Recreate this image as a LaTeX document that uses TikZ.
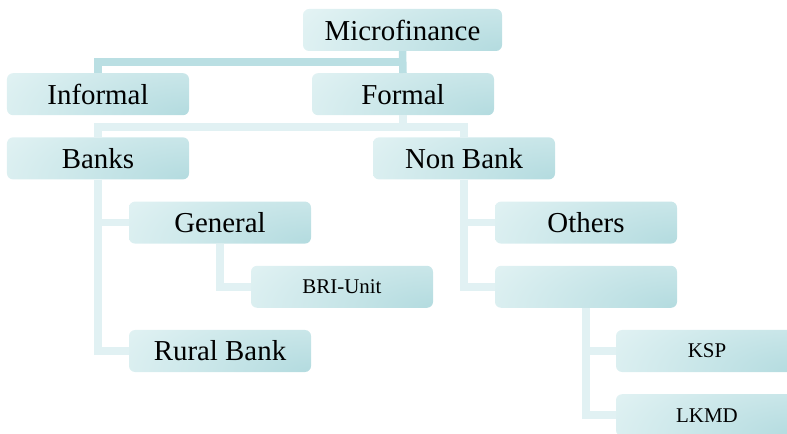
\documentclass[tikz,border=0pt]{standalone}
\usepackage{fontspec}
\setmainfont{Liberation Serif}
\usepackage{tikz}
\definecolor{boxlight}{HTML}{E3F3F4}
\definecolor{boxdark}{HTML}{B3DBDF}
\definecolor{linklight}{HTML}{E1F1F3}
\definecolor{linkdark}{HTML}{BADFE3}
\tikzset{
    orgbox/.style={rounded corners=6bp, minimum width=182bp, minimum height=42bp,
        inner sep=0pt, font=\fontsize{29}{30}\selectfont,
        path picture={\shade[inner color=boxdark, outer color=boxlight]
            (path picture bounding box.south east) ellipse (220bp and 90bp);}},
    smallbox/.style={orgbox, font=\fontsize{21}{22}\selectfont},
    link/.style={draw=linklight, line width=7.5bp},
    linkdk/.style={link, draw=linkdark}
}

\begin{document}
\begin{tikzpicture}[x=1bp, y=-1bp]
        \clip (0, 0) rectangle (787, 434);
        \node[orgbox, minimum width=199bp] (micro) at (402.5, 30) {Microfinance};
        \node[orgbox] (informal) at (98, 94.2) {Informal};
        \node[orgbox] (formal) at (403, 94.2) {Formal};
        \node[orgbox] (banks) at (98, 158.4) {Banks};
        \node[orgbox] (nonbank) at (464, 158.4) {Non Bank};
        \node[orgbox] (general) at (220, 222.6) {General};
        \node[orgbox] (others) at (586, 222.6) {Others};
        \node[smallbox] (bri) at (342, 286.8) {BRI-Unit};
        \node[smallbox] (coop) at (586, 286.8) {};
        \node[orgbox] (rural) at (220, 351) {Rural Bank};
        \node[smallbox] (ksp) at (707, 351) {KSP};
        \node[smallbox] (lkmd) at (707, 415.2) {LKMD};
        % first split
        \draw[linkdk] (micro.south) -- ++(0, 11) -| (informal.north);
        \draw[linkdk] (micro.south) -- (formal.north);
        % formal sector
        \draw[link] (formal.south) -- ++(0, 11.5) -| (banks.north);
        \draw[link] (formal.south) -- ++(0, 11.5) -| (nonbank.north);
        \draw[link] (banks.south) |- (general.west);
        \draw[link] (banks.south) |- (rural.west);
        \draw[link] (general.south) |- (bri.west);
        \draw[link] (nonbank.south) |- (others.west);
        \draw[link] (nonbank.south) |- (coop.west);
        \draw[link] (coop.south) |- (ksp.west);
        \draw[link] (coop.south) |- (lkmd.west);
    \end{tikzpicture}
\end{document}
